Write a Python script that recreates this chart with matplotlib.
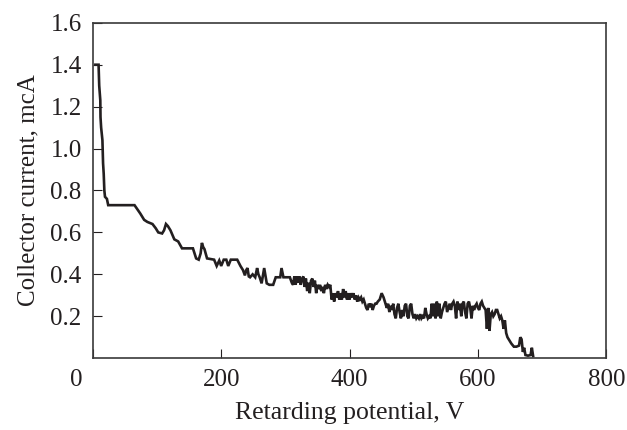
import matplotlib
matplotlib.use("Agg")
import matplotlib.pyplot as plt
import matplotlib.transforms as mtransforms

# ---------------------------------------------------------------------------
# Data (retarding potential, V vs collector current, mcA)
# ---------------------------------------------------------------------------
potential = [
    4, 9, 10, 11.7, 12, 13, 15, 16, 17, 18, 19, 22, 24, 40, 55, 65, 74, 80, 85,
    93, 98, 102, 108, 111, 114, 117, 121, 127, 133, 139, 150, 156, 161, 165,
    168, 170, 172, 174, 178, 189, 193, 197, 200, 204, 208, 211, 215, 225, 230,
    234, 237, 239, 241, 243, 245, 249, 253, 256, 258, 260, 263, 267, 271, 275,
    281, 285, 292, 294, 297, 302, 307, 310,
    312, 314, 316, 318, 320, 322, 324, 326, 328, 330, 332, 334, 336, 338, 340,
    342, 344, 346, 348, 350, 352, 354, 356, 358, 360, 362, 364, 366, 368, 370,
    372, 374, 376, 378, 380, 382, 384, 386, 388, 390, 392, 394, 396, 398, 400,
    402, 404, 406, 408, 410, 412, 414, 416, 418, 420, 422, 424, 426, 428, 430,
    432, 434, 436, 438, 440, 442, 444, 447, 450, 453, 456, 458, 460, 462, 464,
    466, 468, 470, 472, 474, 476, 478, 480, 482, 484, 486, 488, 490, 492, 494,
    496, 498, 500, 502, 504, 506, 508, 510, 512, 514, 516, 518, 520, 522, 524,
    526, 528, 530, 532, 534, 536, 538, 540, 542, 544, 546, 548, 550, 552, 554,
    556, 558, 560, 562, 564, 566, 568, 570, 572, 574, 576, 578, 580, 582, 584,
    586, 588, 590, 592, 594, 596, 598, 600, 602, 604, 606, 608, 610, 612, 614,
    616, 618, 620, 622, 624, 626, 628, 630, 632, 634, 636, 638, 640, 642, 644,
    646, 648, 652, 656, 660, 664, 666, 668, 670, 672, 674, 678, 682, 684, 686,
]
current = [
    1.40, 1.40, 1.30, 1.23, 1.15, 1.10, 1.04, 0.93, 0.88, 0.80, 0.77, 0.76,
    0.73, 0.73, 0.73, 0.73, 0.69, 0.66, 0.65, 0.64, 0.62, 0.60, 0.595, 0.61,
    0.64, 0.63, 0.61, 0.567, 0.557, 0.524, 0.524, 0.524, 0.476, 0.47, 0.50,
    0.55, 0.53, 0.52, 0.476, 0.47, 0.44, 0.466, 0.44, 0.47, 0.47, 0.44, 0.47,
    0.47, 0.44, 0.42, 0.395, 0.42, 0.43, 0.39, 0.386, 0.40, 0.386, 0.43, 0.40,
    0.386, 0.357, 0.43, 0.357, 0.35, 0.35, 0.386, 0.386, 0.43, 0.386, 0.386,
    0.386, 0.36,
    0.35, 0.39, 0.35, 0.39, 0.36, 0.39, 0.35, 0.38, 0.39, 0.34, 0.38, 0.32,
    0.36, 0.31, 0.37, 0.38, 0.34, 0.37, 0.31, 0.35, 0.33, 0.35, 0.32, 0.34,
    0.31, 0.35, 0.33, 0.35, 0.34, 0.35, 0.28, 0.31, 0.27, 0.31, 0.29, 0.32,
    0.28, 0.31, 0.28, 0.33, 0.29, 0.32, 0.28, 0.31, 0.28, 0.31, 0.29, 0.31,
    0.28, 0.30, 0.27, 0.29, 0.28, 0.29, 0.27, 0.28, 0.26, 0.24, 0.23, 0.26,
    0.25, 0.26, 0.23, 0.25, 0.26, 0.26, 0.27, 0.28, 0.31, 0.29, 0.26, 0.24,
    0.26, 0.22, 0.25, 0.23, 0.26, 0.21, 0.19, 0.24, 0.26, 0.22, 0.19, 0.23,
    0.20, 0.25, 0.26, 0.20, 0.19, 0.25, 0.26, 0.21, 0.19, 0.21, 0.19, 0.20,
    0.19, 0.21, 0.19, 0.20, 0.19, 0.24, 0.21, 0.19, 0.20, 0.19, 0.26, 0.20,
    0.26, 0.19, 0.27, 0.20, 0.26, 0.19, 0.22, 0.24, 0.26, 0.27, 0.22, 0.24,
    0.26, 0.23, 0.26, 0.27, 0.25, 0.19, 0.27, 0.23, 0.26, 0.20, 0.26, 0.27,
    0.22, 0.19, 0.26, 0.27, 0.24, 0.19, 0.25, 0.23, 0.25, 0.26, 0.24, 0.23,
    0.26, 0.27, 0.25, 0.24, 0.23, 0.14, 0.24, 0.13, 0.21, 0.22, 0.20, 0.21,
    0.23, 0.23, 0.21, 0.19, 0.20, 0.18, 0.14, 0.18, 0.12, 0.10, 0.09, 0.07,
    0.055, 0.055, 0.06, 0.10, 0.09, 0.03, 0.05, 0.015, 0.012, 0.015, 0.05,
    0.01,
]

x_ticks = [0, 200, 400, 600, 800]
y_ticks = [0.2, 0.4, 0.6, 0.8, 1.0, 1.2, 1.4, 1.6]

INK = "#231f20"

plt.rcParams["font.family"] = ["Liberation Serif", "DejaVu Serif"]

fig = plt.figure(figsize=(6.27, 4.30), dpi=100)
ax = fig.add_axes([0.148, 0.167, 0.819, 0.780])

ax.plot(potential, current, color=INK, lw=1.9, solid_joinstyle="miter")

ax.set_xlim(0, 800)
ax.set_ylim(0, 1.6)
ax.set_xticks(x_ticks)
ax.set_xticklabels([str(t) for t in x_ticks])
ax.set_yticks(y_ticks)
ax.set_yticklabels([f"{t:.1f}" for t in y_ticks])

ax.tick_params(direction="in", length=6.5, width=0.8, colors=INK,
               labelsize=18, pad=8)

# the shared origin label "0" sits left of the corner
shift = mtransforms.ScaledTranslation(-17 / 100, 0, fig.dpi_scale_trans)
lbl0 = ax.get_xticklabels()[0]
lbl0.set_transform(lbl0.get_transform() + shift)

for sp in ax.spines.values():
    sp.set_color("#3a3a3a")
    sp.set_linewidth(1.2)

ax.set_xlabel("Retarding potential, V", fontsize=18.5, color=INK, labelpad=8)
ax.set_ylabel("Collector current, mcA", fontsize=18, color=INK, labelpad=8)

fig.savefig("out.png", dpi=100)
